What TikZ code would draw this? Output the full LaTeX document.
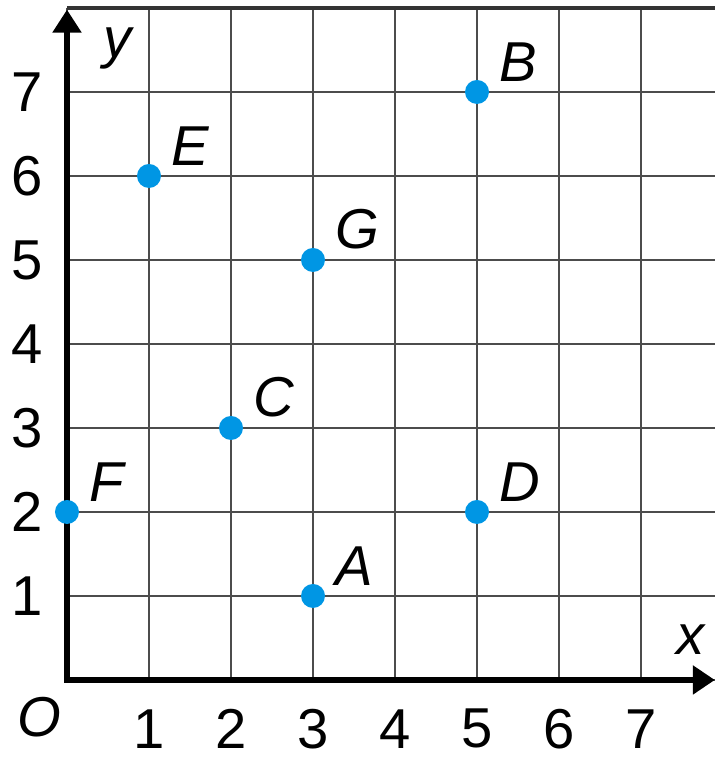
\documentclass[tikz,border=0pt]{standalone}
\usepackage{fontspec}
\setmainfont{Liberation Sans}
\usetikzlibrary{arrows.meta,positioning}
\definecolor{ptblue}{RGB}{0,150,228}

\begin{document}
\begin{tikzpicture}[xscale=0.82,yscale=0.84,font=\fontsize{16}{19}\selectfont,gridline/.style={draw=black!70,line width=0.6pt},axis/.style={line width=1.5pt,line join=miter,{Triangle[length=0.22cm,width=0.28cm]}-{Triangle[length=0.23cm,width=0.28cm]}},pt/.style={shape=circle,fill=ptblue,inner sep=0pt,minimum size=0.24cm},ptlabel/.style={inner sep=0pt,font=\fontsize{16}{19}\selectfont\itshape},tick/.style={inner sep=0pt}]
\def\xl{-0.58};
\def\yl{-0.49};

\useasboundingbox (-0.817,-0.917) rectangle (7.902,8.095);

\draw[gridline] (0,0) grid (7.9,8);
\draw[draw=black!80,line width=1pt] (0,8) -- (7.9,8);

\coordinate (O) at (0,0);
\coordinate (xend) at (7.9,0);
\coordinate (yend) at (0,7.98);
\draw[axis] (xend) -- (O) -- (yend);

\node[tick,font=\fontsize{16}{19}\selectfont\itshape] (x) at (7.61,0.48) {x};
\node[tick,font=\fontsize{16}{19}\selectfont\itshape] (y) at (0.62,7.52) {y};
\node[tick,font=\fontsize{16}{19}\selectfont\itshape] (o) at (-0.34,-0.44) {O};

\node[tick] (x1) at (1,\xl) {1};
\node[tick] (x2) at (2,\xl) {2};
\node[tick] (x3) at (3,\xl) {3};
\node[tick] (x4) at (4,\xl) {4};
\node[tick] (x5) at (5,\xl) {5};
\node[tick] (x6) at (6,\xl) {6};
\node[tick] (x7) at (7,\xl) {7};

\node[tick] (y1) at (\yl,1) {1};
\node[tick] (y2) at (\yl,2) {2};
\node[tick] (y3) at (\yl,3) {3};
\node[tick] (y4) at (\yl,4) {4};
\node[tick] (y5) at (\yl,5) {5};
\node[tick] (y6) at (\yl,6) {6};
\node[tick] (y7) at (\yl,7) {7};

\node[pt] (A) at (3,1) {};
\node[ptlabel,above right=0.1cm and 0.22cm of A.center] (labA) {A};
\node[pt] (B) at (5,7) {};
\node[ptlabel,above right=0.1cm and 0.22cm of B.center] (labB) {B};
\node[pt] (C) at (2,3) {};
\node[ptlabel,above right=0.1cm and 0.22cm of C.center] (labC) {C};
\node[pt] (D) at (5,2) {};
\node[ptlabel,above right=0.1cm and 0.22cm of D.center] (labD) {D};
\node[pt] (E) at (1,6) {};
\node[ptlabel,above right=0.1cm and 0.22cm of E.center] (labE) {E};
\node[pt] (F) at (0,2) {};
\node[ptlabel,above right=0.1cm and 0.22cm of F.center] (labF) {F};
\node[pt] (G) at (3,5) {};
\node[ptlabel,above right=0.1cm and 0.22cm of G.center] (labG) {G};
\end{tikzpicture}
\end{document}
